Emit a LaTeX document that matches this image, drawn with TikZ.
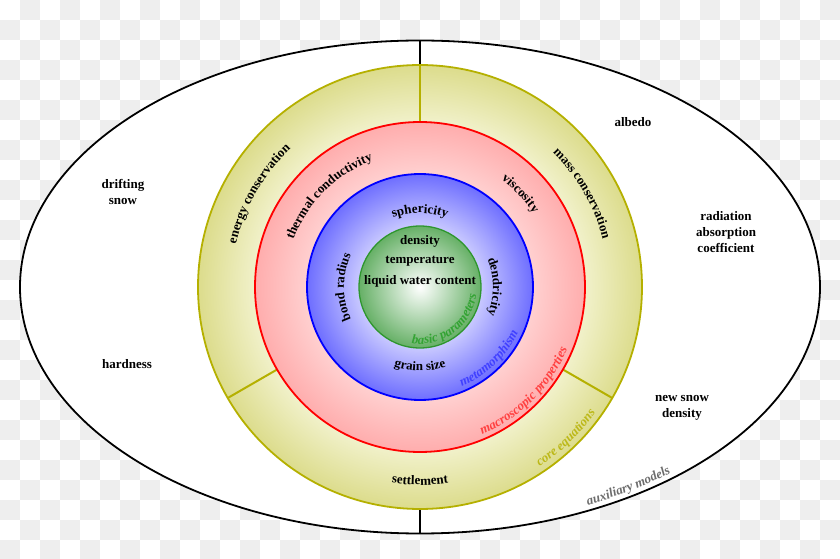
\documentclass[tikz,border=0pt]{standalone}
\usepackage{fontspec}
\setmainfont{Liberation Serif}
\usepackage{tikz}
\usetikzlibrary{decorations.text}

\definecolor{ringolive}{HTML}{B5B000}
\definecolor{yelin}{HTML}{F1F1CA}
\definecolor{yelout}{HTML}{DCDC8C}
\definecolor{redin}{HTML}{FFD0D0}
\definecolor{redout}{HTML}{FFADAD}
\definecolor{bluein}{HTML}{C8C8FF}
\definecolor{blueout}{HTML}{6E6EFF}
\definecolor{greenout}{HTML}{66B066}
\definecolor{greenline}{HTML}{2E962E}
\definecolor{checker}{HTML}{EEEEEE}

\pgfdeclareradialshading{yellowring}{\pgfpointorigin}{color(0bp)=(yelin); color(18.6bp)=(yelin); color(25bp)=(yelout); color(50bp)=(yelout)}
\pgfdeclareradialshading{redring}{\pgfpointorigin}{color(0bp)=(redin); color(17.1bp)=(redin); color(25bp)=(redout); color(50bp)=(redout)}
\pgfdeclareradialshading{bluering}{\pgfpointorigin}{color(0bp)=(white); color(13.5bp)=(bluein); color(25bp)=(blueout); color(50bp)=(blueout)}
\pgfdeclareradialshading{greenball}{\pgfpointorigin}{color(0bp)=(white); color(25bp)=(greenout); color(50bp)=(greenout)}

\newcommand\ringfont{\fontsize{13}{16}\selectfont\bfseries}
\newcommand\tagfont{\fontsize{13}{16}\selectfont\bfseries\itshape}

\tikzset{
  ringtext/.style={decorate, decoration={text along path, text align=center, text={#1}}},
  outerlabel/.style={font=\ringfont, align=center, inner sep=0pt},
}

\begin{document}
\begin{tikzpicture}[x=1pt, y=1pt]
\useasboundingbox (-420,-272) rectangle (420,287);
% background
\foreach \i in {0,...,41}
  \foreach \j in {0,...,27}
    {\ifodd\numexpr\i+\j\relax
       \fill[checker] (-420+20*\i,287-20*\j) rectangle ++(20,-20);
     \fi}
\fill[white] (0,0) ellipse [x radius=400, y radius=246.5];
\draw[black, line width=1.8] (0,0) ellipse [x radius=400, y radius=246.5];
\draw[black, line width=1.8] (0,222) -- (0,246.5);
\draw[black, line width=1.8] (0,-222) -- (0,-246.5);

% core equations
\shade[shading=yellowring] (0,0) circle (222);
\draw[ringolive, line width=2] (90:165) -- (90:222);
\draw[ringolive, line width=2] (210:165) -- (210:222);
\draw[ringolive, line width=2] (330:165) -- (330:222);
\draw[ringolive, line width=1.8] (0,0) circle (222);

% macroscopic properties
\shade[shading=redring] (0,0) circle (165);
\draw[red, line width=1.8] (0,0) circle (165);

% metamorphism
\shade[shading=bluering] (0,0) circle (113);
\draw[blue, line width=1.8] (0,0) circle (113);

% basic parameters
\shade[shading=greenball] (0,0) circle (61);
\draw[greenline, line width=1.3] (0,0) circle (61);

% ring labels
\path[ringtext={|\ringfont|energy conservation}] (200:189) arc[start angle=200, end angle=100, radius=189];
\path[ringtext={|\ringfont|mass conservation}] (80:189) arc[start angle=80, end angle=-20, radius=189];
\path[ringtext={|\ringfont|settlement}] (240:198) arc[start angle=240, end angle=300, radius=198];
\path[ringtext={|\ringfont|thermal conductivity}] (195:135) arc[start angle=195, end angle=75, radius=135];
\path[ringtext={|\ringfont|viscosity}] (93:135) arc[start angle=93, end angle=-7, radius=135];
\path[ringtext={|\ringfont|sphericity}] (150:74) arc[start angle=150, end angle=30, radius=74];
\path[ringtext={|\ringfont|bond radius}] (240:76) arc[start angle=240, end angle=120, radius=76];
\path[ringtext={|\ringfont|dendricity}] (60:73) arc[start angle=60, end angle=-60, radius=73];
\path[ringtext={|\ringfont|grain size}] (210:84) arc[start angle=210, end angle=330, radius=84];

% layer names
\path[ringtext={|\tagfont|basic parameters}, decoration={text color=green!55!black!80}] (237:57) arc[start angle=237, end angle=377, radius=57];
\path[ringtext={|\tagfont|metamorphism}, decoration={text color=blue!75}] (254:108) arc[start angle=254, end angle=374, radius=108];
\path[ringtext={|\tagfont|macroscopic properties}, decoration={text color=red!75}] (265:160) arc[start angle=265, end angle=365, radius=160];
\path[ringtext={|\tagfont|core equations}, decoration={text color=ringolive!90}] (284:216) arc[start angle=284, end angle=344, radius=216];
\path[ringtext={|\tagfont|auxiliary models}, decoration={text color=gray!85!black}] (283:394 and 241) arc[start angle=283, end angle=324, x radius=394, y radius=241];

% basic parameters
\node[outerlabel] (dens) at (0,46) {density};
\node[outerlabel] (temp) at (0,26) {temperature};
\node[outerlabel] (lwc) at (0,6) {liquid water content};

% auxiliary models
\node[outerlabel] (albedo) at (213,165) {albedo};
\node[outerlabel] (drift) at (-297,95.5) {drifting\\snow};
\node[outerlabel] (rad) at (306,55) {radiation\\absorption\\coefficient};
\node[outerlabel] (hard) at (-293,-77) {hardness};
\node[outerlabel] (newsnow) at (262,-120.5) {new snow\\density};
\end{tikzpicture}
\end{document}
